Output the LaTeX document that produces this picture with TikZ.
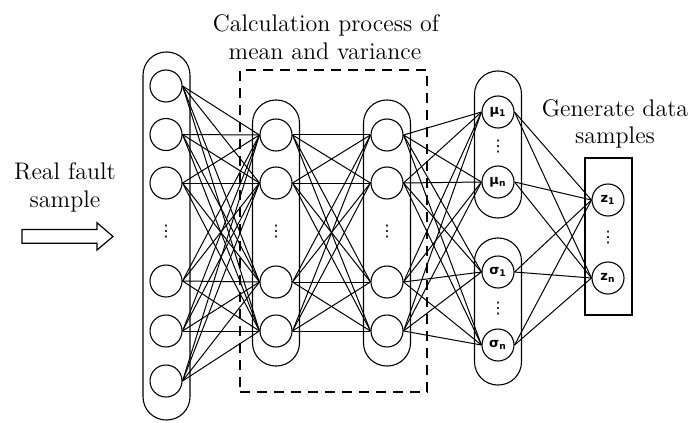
\documentclass[tikz,border=0pt]{standalone}
\usepackage{fontspec}
\newfontfamily\dejavu{DejaVu Sans}
\begin{document}
\begin{tikzpicture}[x=0.5pt,y=-0.5pt,line width=0.55pt,
  neuron/.style={circle,draw,minimum size=16pt,inner sep=0pt,font=\dejavu\bfseries\fontsize{6.5}{7}\selectfont},
  capsule/.style={draw,rounded corners=11.6pt,minimum width=23.5pt,inner sep=0pt},
  link/.style={line width=0.5pt},
  vdot/.style={inner sep=0pt,font=\dejavu\fontsize{8}{9}\selectfont},
  lbl/.style={anchor=base,inner sep=0pt,font=\fontsize{12}{14}\selectfont}]
\useasboundingbox (0,0) rectangle (688,422);

% containers
\node[capsule,minimum height=184pt] (cap1) at (166.5,236) {};
\node[capsule,minimum height=133pt] (cap2) at (276,233) {};
\node[capsule,minimum height=133pt] (cap3) at (387,233) {};
\node[capsule,minimum height=73.5pt] (capmu) at (498,144.5) {};
\node[capsule,minimum height=73.5pt] (capsig) at (498,311.5) {};
\node[draw,dash pattern=on 5pt off 3.5pt,line width=0.65pt,minimum width=93.5pt,minimum height=161pt,inner sep=0pt] (calcbox) at (333.5,231) {};
\node[draw,minimum width=23.5pt,minimum height=78.5pt,inner sep=0pt] (zbox) at (608.5,236.5) {};

% layer 1
\foreach \i/\y in {1/86,2/134.5,3/183,4/281,5/331,6/381}
  \node[neuron] (a\i) at (166,\y) {};
\node[vdot] (adots) at (166,232) {⋮};
% layer 2 and 3
\foreach \i/\y in {1/135,2/183,3/282,4/331}{
  \node[neuron] (b\i) at (276,\y) {};
  \node[neuron] (c\i) at (387,\y) {};
}
\node[vdot] (bdots) at (276,232) {⋮};
\node[vdot] (cdots) at (387,232) {⋮};
% layer 4
\node[neuron] (d1) at (498,112) {μ\textsubscript{1}};
\node[neuron] (d2) at (498,182) {μ\textsubscript{n}};
\node[neuron] (d3) at (498,272) {σ\textsubscript{1}};
\node[neuron] (d4) at (498,345) {σ\textsubscript{n}};
\node[vdot] (mudots) at (498,147) {⋮};
\node[vdot] (sigdots) at (498,309) {⋮};
% latent
\node[neuron] (z1) at (608,200) {z\textsubscript{1}};
\node[neuron] (z2) at (608,278) {z\textsubscript{n}};
\node[vdot] (zdots) at (608,238) {⋮};

% links
\foreach \i in {1,...,6}
  \foreach \j in {1,...,4}
    \draw[link] (a\i.east) -- (b\j.west);
\foreach \i in {1,...,4}
  \foreach \j in {1,...,4}{
    \draw[link] (b\i.east) -- (c\j.west);
    \draw[link] (c\i.east) -- (d\j.west);
  }
\foreach \i in {1,...,4}
  \foreach \j in {1,2}
    \draw[link] (d\i.east) -- (z\j.west);

% input arrow
\draw[line width=0.6pt] (22,229.5) -- (97,229.5) -- (97,222.7) -- (113,236.5) -- (97,250) -- (97,243.3) -- (22,243.3) -- cycle;

% texts
\node[lbl] (t1) at (65,179) {Real fault};
\node[lbl] (t2) at (65,207) {sample};
\node[lbl] (t3) at (326,32) {Calculation process of};
\node[lbl] (t4) at (325,60) {mean and variance};
\node[lbl] (t5) at (615,117) {Generate data};
\node[lbl] (t6) at (615,143) {samples};
\end{tikzpicture}
\end{document}
